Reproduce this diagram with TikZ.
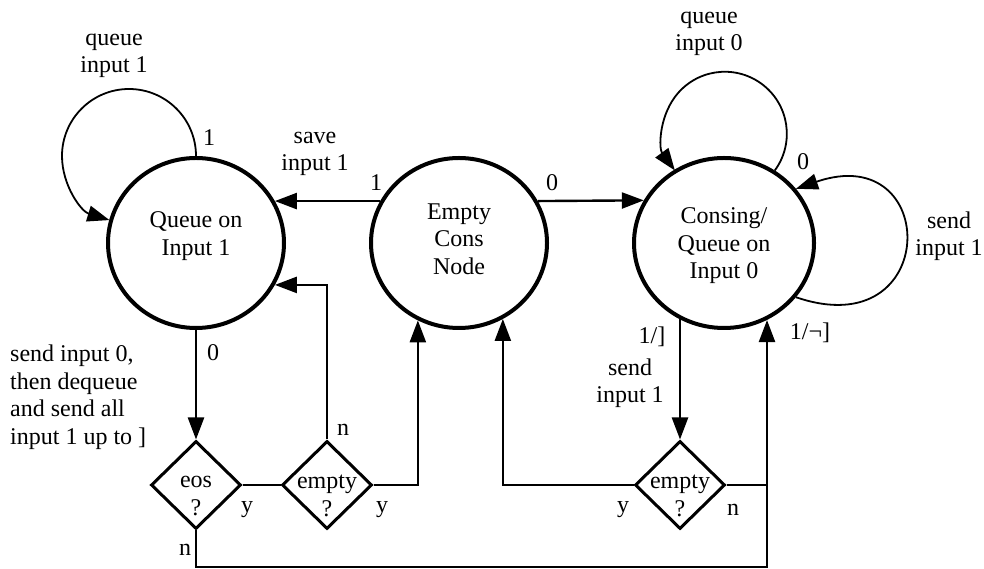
\documentclass[tikz,border=0pt]{standalone}
\usepackage{fontspec}
\setmainfont{Liberation Serif}
\usetikzlibrary{arrows.meta,shapes.geometric}
\begin{document}
\begin{tikzpicture}[x=1pt,y=1pt,
  state/.style={ellipse,draw,line width=4pt,inner sep=0pt},
  dec/.style={diamond,draw,line width=3pt,inner sep=0pt,minimum width=90pt,minimum height=88pt},
  txt/.style={inner sep=0pt,align=center,font=\fontsize{24}{27.5}\selectfont},
  conn/.style={line width=2.4pt},
  arr/.style={conn,-{Triangle[length=22pt,width=16pt]}},
  selfloop/.style={line width=1.8pt,-{Triangle[length=22pt,width=16pt]}}
]
\useasboundingbox (0,0) rectangle (984,569);

% states
\node[state,minimum width=176pt,minimum height=170pt] (q1) at (196,326) {};
\node[state,minimum width=176pt,minimum height=170pt] (e) at (459,326) {};
\node[state,minimum width=180pt,minimum height=170pt] (c) at (724,326) {};
\node[txt] (q1t) at (196,333) {Queue on\\Input 1};
\node[txt] (et) at (459,330) {Empty\\Cons\\Node};
\node[txt] (ct) at (724,323) {Consing/\\Queue on\\Input 0};

% decisions
\node[dec] (d1) at (196,84) {};
\node[dec] (d2) at (327,84) {};
\node[dec] (d3) at (680,84) {};
\node[txt] (d1t) at (196,73) {eos\\?};
\node[txt] (d2t) at (327,73) {empty\\?};
\node[txt] (d3t) at (680,73) {empty\\?};

\coordinate (bl) at (196,2);
\coordinate (br) at (767,2);

% transitions between states
\draw[arr] (e.152) -- (q1.28);
\draw[arr] (e.28) -- (c.152);

% self loops
\draw[selfloop] (q1.north) arc[start angle=0,end angle=253,radius=67pt];
\draw[selfloop] (c.55) arc[start angle=-36.3,end angle=216.3,radius=62pt];
\draw[selfloop] (c.-37) .. controls (941,222) and (941,430) .. (c.37);

% lower part
\draw[arr] (q1.south) -- (d1.north);
\draw[conn] (d1.east) -- (d2.west);
\draw[arr] (d2.north) |- (q1.-28);
\draw[arr] (d2.east) -| (e.-118);
\draw[arr] (c.-120 -| d3.north) -- (d3.north);
\draw[arr] (d3.west) -| (e.-60);
\draw[conn] (d3.east) -- (br |- d3.east);
\draw[arr] (d1.south) -- (bl) -- (br) -- (br |- c.-61);

% labels
\node[txt] (l1) at (114,513) {queue\\input 1};
\node[txt] (l2) at (209,431) {1};
\node[txt] (l3) at (315,415) {save\\input 1};
\node[txt] (l4) at (376,386) {1};
\node[txt] (l5) at (552,386) {0};
\node[txt] (l6) at (709,535) {queue\\input 0};
\node[txt] (l7) at (803,407) {0};
\node[txt] (l8) at (949,333) {send\\input 1};
\node[txt] (l9) at (213,216) {0};
\node[txt,align=left,anchor=west] (l10) at (10,172) {send input 0,\\then dequeue\\and send all\\input 1 up to ]};
\node[txt] (l11) at (343,139) {n};
\node[txt] (l12) at (247,59) {y};
\node[txt] (l13) at (382,59) {y};
\node[txt] (l14) at (185,19) {n};
\node[txt] (l15) at (652,232) {1/]};
\node[txt] (l16) at (630,186) {send\\input 1};
\node[txt] (l17) at (623,59) {y};
\node[txt] (l18) at (733,59) {n};
\node[txt] (l19) at (810,236) {1/¬]};
\end{tikzpicture}
\end{document}
